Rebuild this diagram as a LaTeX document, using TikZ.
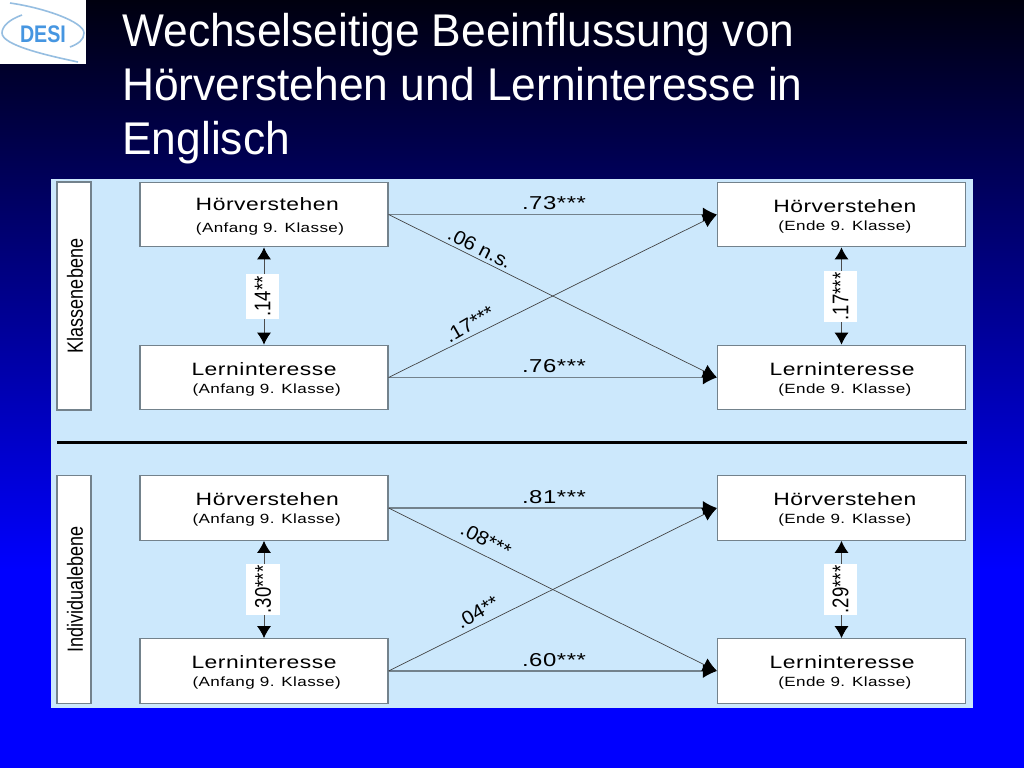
\documentclass[tikz,border=0pt]{standalone}
\usepackage{fontspec}
\setmainfont{Liberation Sans}
\newfontfamily\titlef[FakeStretch=0.967]{Liberation Sans}
\newfontfamily\widef[FakeStretch=1.28,LetterSpace=3]{Liberation Sans}
\newfontfamily\diagf[FakeStretch=1.08]{Liberation Sans}
\newfontfamily\narrowf[FakeStretch=0.82]{Liberation Sans}
\usetikzlibrary{arrows.meta}
\definecolor{panelblue}{RGB}{204,232,252}
\definecolor{boxedge}{RGB}{115,130,140}
\definecolor{logoblue}{RGB}{70,150,225}
\definecolor{logoring}{RGB}{150,190,225}
\definecolor{topnavy}{RGB}{0,0,15}
\newcommand{\boxmain}[1]{{\fontsize{13.4}{15}\selectfont\widef\rule{0pt}{12pt}#1}}
\newcommand{\boxsub}[1]{{\fontsize{10}{15}\selectfont\widef #1}}
\tikzset{
  x=0.75pt,y=-0.75pt,
  varbox/.style={draw=boxedge,line width=0.8pt,fill=white,minimum width=186pt,minimum height=48.5pt,inner sep=0pt,align=center,font=\widef},
  sidebox/.style={draw=boxedge,line width=0.8pt,fill=white,minimum width=25.5pt,inner sep=0pt},
  sidetext/.style={rotate=90,font=\fontsize{16.5}{18}\selectfont\narrowf},
  straight/.style={draw=boxedge,line width=1.2pt,-{Latex[length=10.5pt,width=10.5pt,black]}},
  cross/.style={draw=black!75,line width=0.5pt,-{Latex[length=10.5pt,width=10.5pt,black]}},
  corr/.style={draw=black!70,line width=0.7pt,{Latex[length=9pt,width=10.5pt,black]}-{Latex[length=9pt,width=10.5pt,black]}},
  coef/.style={font=\fontsize{14}{16}\selectfont\widef,inner sep=0pt},
  diagcoef/.style={font=\fontsize{14.5}{16}\selectfont\diagf,inner sep=0pt},
  corrlabel/.style={rotate=90,fill=white,inner sep=0pt,minimum height=25pt,font=\fontsize{17}{19}\selectfont\narrowf},
}
\begin{document}
\begin{tikzpicture}
\useasboundingbox (0,0) rectangle (1024,768);
\shade[top color=topnavy,bottom color=blue] (0,0) rectangle (1024,570);
\fill[blue] (0,570) rectangle (1024,768);
% logo
\fill[white] (0,0) rectangle (86,64);
\draw[logoring,line width=1.2pt] (10,3) .. controls (45,8) and (84,22) .. (84,33) .. controls (84,40) and (78,44) .. (70,47);
\draw[logoring,line width=1.2pt] (22,15) .. controls (8,20) and (2,27) .. (2,33) .. controls (2,45) and (45,55) .. (78,62);
\node[inner sep=0pt,font=\fontsize{18}{20}\selectfont\narrowf\bfseries,text=logoblue] (logo) at (43,34) {DESI};
% title
\node[anchor=north west,inner sep=0pt,text=white,align=left,font=\fontsize{34.4}{40.5}\selectfont\titlef] (title) at (122,12.5) {Wechselseitige Beeinflussung von\\Hörverstehen und Lerninteresse in\\Englisch};
% panel
\fill[panelblue] (51,179) rectangle (973,708);
\draw[black,line width=2.2pt] (57,442.5) coordinate (sepl) -- (967,442.5) coordinate (sepr);
% side boxes
\node[sidebox,minimum height=171pt] (s1) at (74,296) {};
\node[sidetext] (s1t) at (75,296) {Klassenebene};
\node[sidebox,minimum height=171.5pt] (s2) at (74,589.5) {};
\node[sidetext] (s2t) at (75,589.5) {Individualebene};
% upper boxes
\node[varbox] (a1) at (264,214.5) {\hspace*{5pt}\boxmain{Hörverstehen}\\[4.5pt]\hspace*{9pt}\boxsub{(Anfang 9. Klasse)}};
\node[varbox] (a2) at (264,377.5) {\boxmain{Lerninteresse}\\[1.5pt]\hspace*{4pt}\boxsub{(Anfang 9. Klasse)}};
\node[varbox] (b1) at (841.5,214.5) {\hspace*{5pt}\boxmain{Hörverstehen}\\[1.5pt]\hspace*{5pt}\boxsub{(Ende 9. Klasse)}};
\node[varbox] (b2) at (841.5,377.5) {\hspace*{1pt}\boxmain{Lerninteresse}\\[1.5pt]\hspace*{5pt}\boxsub{(Ende 9. Klasse)}};
% lower boxes
\node[varbox] (c1) at (264,508) {\hspace*{5pt}\boxmain{Hörverstehen}\\[1.5pt]\hspace*{4pt}\boxsub{(Anfang 9. Klasse)}};
\node[varbox] (c2) at (264,671) {\boxmain{Lerninteresse}\\[1.5pt]\hspace*{4pt}\boxsub{(Anfang 9. Klasse)}};
\node[varbox] (d1) at (841.5,508) {\hspace*{5pt}\boxmain{Hörverstehen}\\[1.5pt]\hspace*{5pt}\boxsub{(Ende 9. Klasse)}};
\node[varbox] (d2) at (841.5,671) {\hspace*{1pt}\boxmain{Lerninteresse}\\[1.5pt]\hspace*{5pt}\boxsub{(Ende 9. Klasse)}};
% connectors
\draw[straight] (a1) -- (b1);
\draw[straight] (a2) -- (b2);
\draw[cross] (a1.east) -- (b2.west);
\draw[cross] (a2.east) -- (b1.west);
\draw[straight] (c1) -- (d1);
\draw[straight] (c2) -- (d2);
\draw[cross] (c1.east) -- (d2.west);
\draw[cross] (c2.east) -- (d1.west);
\draw[corr] (a1) -- (a2);
\draw[corr] (b1) -- (b2);
\draw[corr] (c1) -- (c2);
\draw[corr] (d1) -- (d2);
% correlation labels
\node[corrlabel,minimum width=34pt] (k1) at (262.5,296.5) {.14**};
\node[corrlabel,minimum width=38pt] (k2) at (840.5,296.5) {.17***};
\node[corrlabel,minimum width=38pt] (k3) at (263,589.5) {.30***};
\node[corrlabel,minimum width=38pt] (k4) at (840.5,589.5) {.29***};
% coefficients
\node[coef] (e1) at (554,203) {.73***};
\node[coef] (e2) at (554,366) {.76***};
\node[coef] (e3) at (554,497) {.81***};
\node[coef] (e4) at (554,660) {.60***};
\node[diagcoef,rotate=-27] (e5) at (480,248) {.06 n.s.};
\node[diagcoef,rotate=30] (e6) at (469.5,324) {.17***};
\node[diagcoef,rotate=-27] (e7) at (486,540) {.08***};
\node[diagcoef,rotate=30] (e8) at (477.5,612) {.04**};
\end{tikzpicture}
\end{document}
